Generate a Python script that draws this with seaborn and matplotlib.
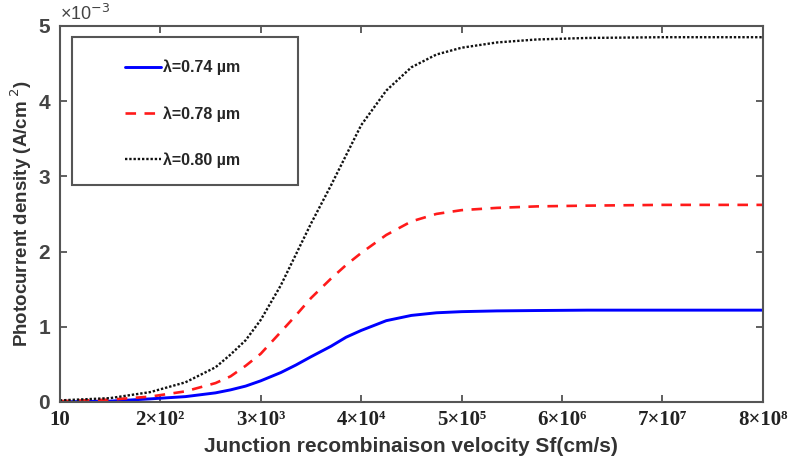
import matplotlib
matplotlib.use("Agg")
import matplotlib.pyplot as plt
import matplotlib.patches as patches
import seaborn as sns
import pandas as pd

# =====================================================
# DATA  (x = tick position, y in units of 1e-3 A/cm2)
# =====================================================

x_pos = [0, 0.5, 0.9, 1.25, 1.55, 1.7, 1.85, 2.0, 2.2, 2.35, 2.5, 2.7,
         2.85, 3.0, 3.25, 3.5, 3.75, 4.0, 4.35, 4.75, 5.25, 6.0, 7.0]

j_074 = [0.00, 0.01, 0.04, 0.07, 0.12, 0.16, 0.21, 0.28, 0.39, 0.49, 0.60, 0.74,
         0.86, 0.95, 1.08, 1.15, 1.185, 1.20, 1.21, 1.215, 1.22, 1.22, 1.22]

j_078 = [0.01, 0.03, 0.07, 0.14, 0.25, 0.34, 0.48, 0.64, 0.93, 1.15, 1.38, 1.64,
         1.82, 1.98, 2.22, 2.40, 2.50, 2.55, 2.58, 2.60, 2.61, 2.62, 2.62]

j_080 = [0.02, 0.05, 0.13, 0.26, 0.46, 0.63, 0.82, 1.09, 1.55, 1.96, 2.37, 2.88,
         3.28, 3.68, 4.14, 4.45, 4.62, 4.71, 4.78, 4.82, 4.84, 4.85, 4.85]

x_ticks = [0, 1, 2, 3, 4, 5, 6, 7]
x_labels = ["10", "2×10²", "3×10³", "4×10⁴", "5×10⁵", "6×10⁶", "7×10⁷", "8×10⁸"]
y_ticks = [0, 1, 2, 3, 4, 5]

labels = ["λ=0.74 µm", "λ=0.78 µm", "λ=0.80 µm"]
colors = ["#0000ff", "#ff1a1a", "#111111"]
styles = ["-", (0, (4, 3.2)), (0, (1, 0.8))]
widths = [2.1, 1.9, 1.7]

# =====================================================
# PLOT
# =====================================================

sns.set_theme(style="white")
plt.rcParams["font.family"] = ["Liberation Sans", "DejaVu Sans"]

fig = plt.figure(figsize=(7.98, 4.63), dpi=100)
ax = fig.add_axes([0.075, 0.132, 0.881, 0.812])

for ys, lab, c, ls, lw in zip([j_074, j_078, j_080], labels, colors, styles, widths):
    df = pd.DataFrame({"x": x_pos, "y": ys})
    sns.lineplot(data=df, x="x", y="y", ax=ax, color=c, linestyle=ls,
                 linewidth=lw, label=lab)

ax.set_xlim(0, 7)
ax.set_ylim(0, 5)

ax.set_xticks(x_ticks)
ax.set_xticklabels(x_labels, family=["Liberation Serif", "DejaVu Serif"],
                   fontweight="bold", fontsize=15, color="#222222")
ax.set_yticks(y_ticks)
ax.set_yticklabels([str(v) for v in y_ticks], fontweight="bold",
                   fontsize=15, color="#444444")

ax.tick_params(direction="in", length=5, width=1.2, color="#444444",
               top=True, right=True, bottom=True, left=True, pad=6)
ax.tick_params(axis="y", pad=7)

for s in ax.spines.values():
    s.set_color("#555555")
    s.set_linewidth(1.5)

ax.set_xlabel("Junction recombinaison velocity Sf(cm/s)", fontsize=15,
              fontweight="bold", color="#333333", labelpad=5)
ax.set_ylabel("Photocurrent density (A/cm$^{\\ 2}$)", fontsize=13.5,
              fontweight="bold", color="#333333", labelpad=3)

ax.text(0.0, 1.004, "×10$^{-3}$", transform=ax.transAxes, fontsize=13,
        color="#444444", ha="left", va="bottom")

# legend frame drawn separately so it can be wider than its content
frame = patches.Rectangle((0.017, 0.577), 0.322, 0.394, transform=ax.transAxes,
                          fill=True, facecolor="white", edgecolor="#555555",
                          linewidth=1.5, zorder=4)
ax.add_patch(frame)

leg = ax.legend(loc="center", bbox_to_anchor=(0.175, 0.766), frameon=False,
                fontsize=11.5, handlelength=2.2, handletextpad=0.15,
                labelspacing=1.93)
leg.set_zorder(5)
for t in leg.get_texts():
    t.set_fontweight("bold")

fig.savefig("out.png", dpi=100)
